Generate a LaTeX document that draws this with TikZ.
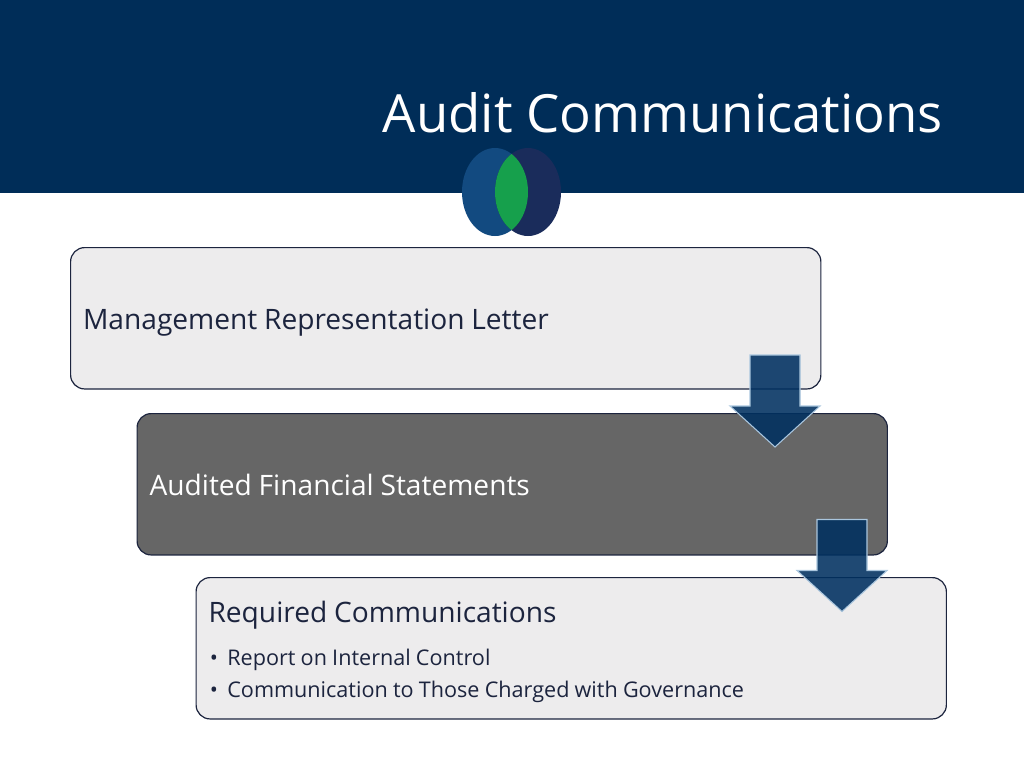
\documentclass[tikz,border=0pt]{standalone}
\usepackage{fontspec}
\setmainfont{Open Sans}
\usetikzlibrary{positioning,shapes.geometric}
\definecolor{banner}{RGB}{0,45,88}
\definecolor{lightbox}{RGB}{237,236,237}
\definecolor{darkbox}{RGB}{102,102,102}
\definecolor{boxline}{RGB}{28,36,62}
\definecolor{inktext}{RGB}{28,36,62}
\definecolor{arrowfill}{RGB}{0,48,96}
\definecolor{arrowline}{RGB}{170,198,222}
\definecolor{logoleft}{RGB}{18,74,128}
\definecolor{logoright}{RGB}{26,44,91}
\definecolor{logomid}{RGB}{22,160,76}
\tikzset{
  stagebox/.style={draw=boxline,line width=0.9pt,rounded corners=10.5pt,minimum width=562.7pt,minimum height=106pt,
    text width=544pt,anchor=north west,inner sep=0pt,font=\fontsize{21.1}{25}\selectfont,
    execute at begin node={\spaceskip=0.24em\relax}},
  onelinebox/.style={stagebox,text height=22.5pt,text depth=6pt},
  downarrow/.pic={
    \draw[fill=arrowfill,fill opacity=0.88,draw=arrowline,line width=0.8pt,line join=miter]
      (-25,0) -- (25,0) -- (25,51) -- (45,51) -- (0,92) -- (-45,51) -- (-25,51) -- cycle;
  }
}
\begin{document}
\begin{tikzpicture}[x=0.75pt,y=-0.75pt]
  \useasboundingbox (0,0) rectangle (1024,768);
  \fill[banner] (0,0) rectangle (1024,193);
  \node[font=\fontsize{39.5}{46}\selectfont,text=white,inner sep=0pt] (title) at (663,113) {Audit Communications};
  % logo
  \fill[logoleft] (495,192) ellipse (33 and 44);
  \fill[logoright] (528,192) ellipse (33 and 44);
  \begin{scope}
    \clip (495,192) ellipse (33 and 44);
    \fill[logomid] (528,192) ellipse (33 and 44);
  \end{scope}
  \node[onelinebox,fill=lightbox,text=inktext] (letter) at (70,247) {Management Representation Letter};
  \node[onelinebox,fill=darkbox,text=white] (statements) at (136.5,413) {Audited Financial Statements};
  \node[stagebox,fill=lightbox,text=inktext] (required) at (195.5,577) {\rule{0pt}{21.3pt}Required Communications\\[9.5pt]
    {\fontsize{16.2}{23}\selectfont\spaceskip=0.24em\relax\hspace*{1pt}•\hspace{7pt}Report on Internal Control\\[-1pt]
    \hspace*{1pt}•\hspace{7pt}Communication to Those Charged with Governance}};
  \pic at (775,355) {downarrow};
  \pic at (842,519.5) {downarrow};
\end{tikzpicture}
\end{document}
